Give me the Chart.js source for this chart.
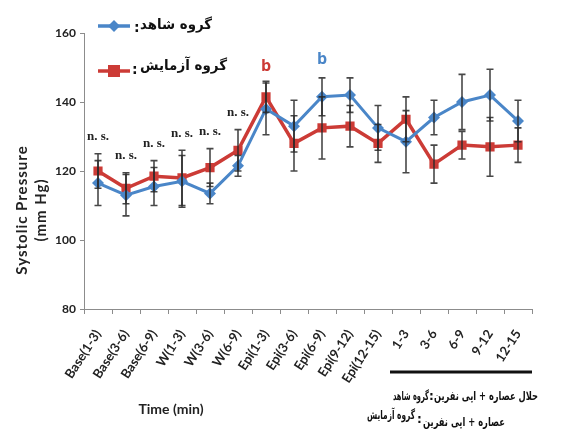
<!DOCTYPE html>
<html>
<head>
<meta charset="utf-8">
<script src="https://cdn.jsdelivr.net/npm/chart.js@4"></script>
<style>
  body { margin: 0; background: #fff; }
  #wrap { width: 571px; height: 437px; }
</style>
</head>
<body>
<div id="wrap"><canvas id="bpChart" width="571" height="437"></canvas></div>
<script>
// time points
const timeLabels = ["Base(1-3)", "Base(3-6)", "Base(6-9)", "W(1-3)", "W(3-6)", "W(6-9)",
    "Epi(1-3)", "Epi(3-6)", "Epi(6-9)", "Epi(9-12)", "Epi(12-15)",
    "1-3", "3-6", "6-9", "9-12", "12-15"];

// گروه شاهد (control)
const ctrlMean = [116.5, 113, 115.5, 117, 113.5, 121.5, 138, 133, 141.5, 142, 132.5, 128.5, 135.5, 140, 142, 134.5];
const ctrlSD   = [6.5, 6, 5.5, 7.5, 3, 3, 7.5, 7.5, 5.5, 5, 6.5, 9, 5, 8, 7.5, 6];

// گروه آزمایش (experimental)
const expMean = [120, 115, 118.5, 118, 121, 126, 141.5, 128, 132.5, 133, 128, 135, 122, 127.5, 127, 127.5];
const expSD   = [5, 4.5, 4.5, 8, 5.5, 6, 4.5, 8, 9, 6, 5.5, 6.5, 5.5, 4, 8.5, 5];

// significance marks
const nsMarks   = ["n. s.", "n. s.", "n. s.", "n. s.", "n. s.", "n. s.", "", "", "", "", "", "", "", "", "", ""];
const expMarks  = ["", "", "", "", "", "", "b", "", "", "", "", "", "", "", "", ""];
const ctrlMarks = ["", "", "", "", "", "", "", "", "b", "", "", "", "", "", "", ""];

const yTicks = [80, 100, 120, 140, 160];

const ctrlName = "گروه شاهد";
const expName = "گروه آزمایش";
const noteCtrl = "حلال عصاره + اپی نفرین";
const noteExp = "عصاره + اپی نفرین";

const BLUE = "#4a86c8";
const RED = "#cc3b36";
const persian = "bold 14px 'DejaVu Sans'";

/* ===========================
   PLUGIN: error bars + notes
=========================== */

const overlayPlugin = {
    id: "overlay",
    afterDatasetsDraw(chart) {
        const ctx = chart.ctx;
        const y = chart.scales.y;
        const sets = [[ctrlMean, ctrlSD], [expMean, expSD]];

        ctx.save();
        ctx.strokeStyle = "rgba(40,40,40,0.85)";
        ctx.lineWidth = 1.6;
        sets.forEach(([mean, sd], di) => {
            const meta = chart.getDatasetMeta(di);
            mean.forEach((m, i) => {
                const px = meta.data[i].x;
                const top = y.getPixelForValue(m + sd[i]);
                const bot = y.getPixelForValue(m - sd[i]);
                ctx.beginPath();
                ctx.moveTo(px, top); ctx.lineTo(px, bot);
                ctx.moveTo(px - 3.5, top); ctx.lineTo(px + 3.5, top);
                ctx.moveTo(px - 3.5, bot); ctx.lineTo(px + 3.5, bot);
                ctx.stroke();
            });
        });

        // marks above the bars
        ctx.textAlign = "center";
        ctx.textBaseline = "middle";
        timeLabels.forEach((_, i) => {
            const px = chart.getDatasetMeta(0).data[i].x;
            const topVal = Math.max(ctrlMean[i] + ctrlSD[i], expMean[i] + expSD[i]);
            const py = y.getPixelForValue(topVal) - 17;
            if (nsMarks[i]) {
                ctx.fillStyle = "#222";
                ctx.font = "bold 13px 'Liberation Serif'";
                ctx.fillText(nsMarks[i], px, py);
            }
            if (expMarks[i]) {
                ctx.fillStyle = RED;
                ctx.font = "bold 16px 'Open Sans'";
                ctx.fillText(expMarks[i], px, y.getPixelForValue(expMean[i] + expSD[i]) - 15);
            }
            if (ctrlMarks[i]) {
                ctx.fillStyle = BLUE;
                ctx.font = "bold 16px 'Open Sans'";
                ctx.fillText(ctrlMarks[i], px, y.getPixelForValue(ctrlMean[i] + ctrlSD[i]) - 18);
            }
        });
        ctx.restore();
    },
    afterDraw(chart) {
        const ctx = chart.ctx;
        ctx.save();

        // legend
        drawLegendItem(ctx, 26, BLUE, "diamond");
        drawLegendItem(ctx, 71, RED, "square");
        ctx.fillStyle = "#111";
        ctx.font = persian;
        ctx.textBaseline = "middle";
        ctx.textAlign = "left";
        ctx.fillText(":", 134, 28);
        ctx.fillText(":", 132, 70);
        ctx.fillText(ctrlName, 140, 25, 72);
        ctx.fillText(expName, 140, 66, 87);

        // y title
        ctx.save();
        ctx.translate(22, 210);
        ctx.rotate(-Math.PI / 2);
        ctx.textAlign = "center";
        ctx.font = "bold 15px Lato";
        ctx.letterSpacing = "1px";
        ctx.fillStyle = "#222";
        ctx.fillText("Systolic Pressure", 0, 0);
        ctx.fillText("(mm Hg)", 0, 19);
        ctx.restore();

        // x title
        ctx.textAlign = "center";
        ctx.font = "bold 14px Lato";
        ctx.fillStyle = "#222";
        ctx.fillText("Time (min)", 171, 409);

        // bracket under recovery points
        ctx.strokeStyle = "#111";
        ctx.lineWidth = 3;
        ctx.beginPath();
        ctx.moveTo(390, 372); ctx.lineTo(532, 372);
        ctx.stroke();

        // group notes
        ctx.font = "bold 12px 'DejaVu Sans'";
        ctx.textAlign = "left";
        ctx.fillStyle = "#111";
        ctx.fillText(ctrlName, 393, 397, 36);
        ctx.fillText(":", 429, 397);
        ctx.fillText(noteCtrl, 434, 397, 104);
        ctx.fillText(expName, 367, 416, 48);
        ctx.fillText(":", 417, 420);
        ctx.fillText(noteExp, 423, 423, 82);

        ctx.restore();
    }
};

function drawLegendItem(ctx, yy, color, shape) {
    ctx.strokeStyle = color;
    ctx.fillStyle = color;
    ctx.lineWidth = 3.5;
    ctx.beginPath();
    ctx.moveTo(98, yy); ctx.lineTo(130, yy);
    ctx.stroke();
    ctx.beginPath();
    if (shape === "diamond") {
        ctx.moveTo(114, yy - 6); ctx.lineTo(120, yy); ctx.lineTo(114, yy + 6); ctx.lineTo(108, yy);
        ctx.closePath();
        ctx.fill();
    } else {
        ctx.fillRect(108, yy - 6, 12, 12);
    }
}

/* ===========================
   CHART
=========================== */

const tickFont = { family: "Lato", size: 13, weight: "bold" };

new Chart(document.getElementById("bpChart").getContext("2d"), {
    type: "line",
    data: {
        labels: timeLabels,
        datasets: [
            {
                label: ctrlName,
                data: ctrlMean,
                borderColor: BLUE,
                backgroundColor: BLUE,
                borderWidth: 3,
                pointStyle: "rectRot",
                pointRadius: 6,
                pointBorderWidth: 0,
                tension: 0
            },
            {
                label: expName,
                data: expMean,
                borderColor: RED,
                backgroundColor: RED,
                borderWidth: 3.5,
                pointStyle: "rect",
                pointRadius: 6.5,
                pointBorderWidth: 0,
                tension: 0
            }
        ]
    },
    options: {
        responsive: false,
        animation: false,
        layout: { padding: { left: 0, top: 33, right: 39, bottom: 0 } },
        plugins: { legend: { display: false }, tooltip: { enabled: false } },
        scales: {
            x: {
                offset: true,
                grid: { offset: true, drawOnChartArea: false, tickLength: 5, color: "#8c8c8c" },
                border: { color: "#8c8c8c", width: 1 },
                ticks: {
                    font: tickFont,
                    color: "#222",
                    minRotation: 57,
                    maxRotation: 57,
                    autoSkip: false,
                    padding: 13
                },
                afterFit: s => { s.height = 128; }
            },
            y: {
                min: 80,
                max: 160,
                afterBuildTicks: s => { s.ticks = yTicks.map(v => ({ value: v })); },
                grid: { drawOnChartArea: false, tickLength: 4, color: "#8c8c8c" },
                border: { color: "#8c8c8c", width: 1 },
                ticks: { font: { family: "Lato", size: 12, weight: "bold" }, color: "#222", padding: 4 },
                afterFit: s => { s.width = 84; }
            }
        }
    },
    plugins: [overlayPlugin]
});
</script>
</body>
</html>
